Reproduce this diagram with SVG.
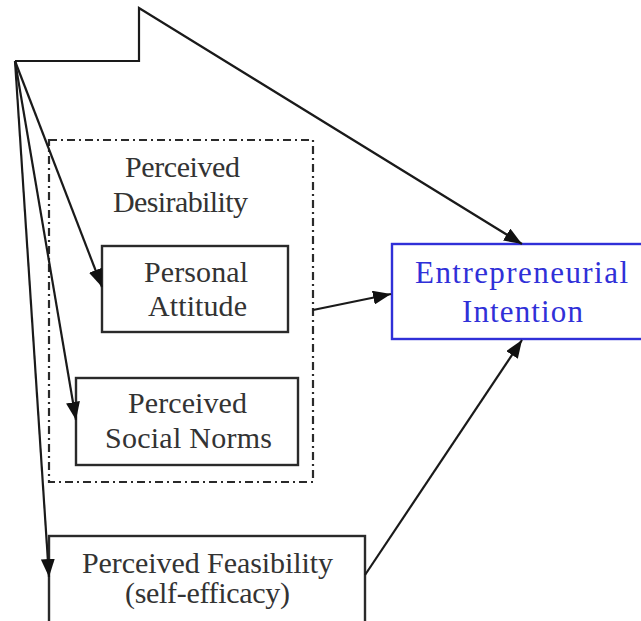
<svg xmlns="http://www.w3.org/2000/svg" width="641" height="621" viewBox="0 0 641 621">
<style>
  .box { fill: none; stroke: #2a2a2a; stroke-width: 2.4; }
  .group { fill: none; stroke: #2a2a2a; stroke-width: 2.2; stroke-dasharray: 8 4 2 4; }
  .blue { fill: none; stroke: #3030d8; stroke-width: 2.4; }
  .lbl { font-family: "Liberation Serif", "Times New Roman", serif; font-size: 30px; fill: #333333; text-anchor: middle; }
  .lblb { font-family: "Liberation Serif", "Times New Roman", serif; font-size: 31px; fill: #3030d8; text-anchor: middle; }
  .conn { fill: none; stroke: #1a1a1a; stroke-width: 2.2; marker-end: url(#arr); }
</style>
<defs>
  <marker id="arr" markerUnits="userSpaceOnUse" viewBox="0 0 18 14" markerWidth="18" markerHeight="14" refX="18" refY="7" orient="auto">
    <path d="M0,0 L18,7 L0,14 z" fill="#111"/>
  </marker>
</defs>
<rect width="641" height="621" fill="#ffffff"/>

<g id="perceived-desirability">
  <rect class="group" x="49" y="140" width="264" height="342"/>
  <text class="lbl" x="182.5" y="177" textLength="115" lengthAdjust="spacing">Perceived</text>
  <text class="lbl" x="180.5" y="212" textLength="135" lengthAdjust="spacing">Desirability</text>
</g>

<g id="personal-attitude">
  <rect class="box" x="102" y="246" width="186" height="86"/>
  <text class="lbl" x="196" y="282" textLength="104" lengthAdjust="spacing">Personal</text>
  <text class="lbl" x="197.5" y="316" textLength="99" lengthAdjust="spacing">Attitude</text>
</g>

<g id="social-norms">
  <rect class="box" x="76" y="378" width="222" height="87"/>
  <text class="lbl" x="187.5" y="413" textLength="119" lengthAdjust="spacing">Perceived</text>
  <text class="lbl" x="188.5" y="448" textLength="167" lengthAdjust="spacing">Social Norms</text>
</g>

<g id="entrepreneurial-intention">
  <rect class="blue" x="392" y="244" width="253" height="95"/>
  <text class="lblb" x="521.5" y="283" textLength="213" lengthAdjust="spacing">Entrepreneurial</text>
  <text class="lblb" x="522.5" y="322" textLength="121" lengthAdjust="spacing">Intention</text>
</g>

<g id="perceived-feasibility">
  <rect class="box" x="49" y="536" width="316" height="100"/>
  <text class="lbl" x="207.5" y="573" textLength="251" lengthAdjust="spacing">Perceived Feasibility</text>
  <text class="lbl" x="207.5" y="603" textLength="165" lengthAdjust="spacing">(self-efficacy)</text>
</g>

<g id="connectors">
  <polyline class="conn" points="15,61 139,61 139,8 522,244"/>
  <line class="conn" x1="15" y1="61" x2="102" y2="287"/>
  <line class="conn" x1="15" y1="61" x2="76" y2="420"/>
  <line class="conn" x1="15" y1="61" x2="49" y2="577"/>
  <line class="conn" x1="313" y1="310" x2="391" y2="294"/>
  <line class="conn" x1="365" y1="575" x2="522" y2="340"/>
</g>
</svg>
